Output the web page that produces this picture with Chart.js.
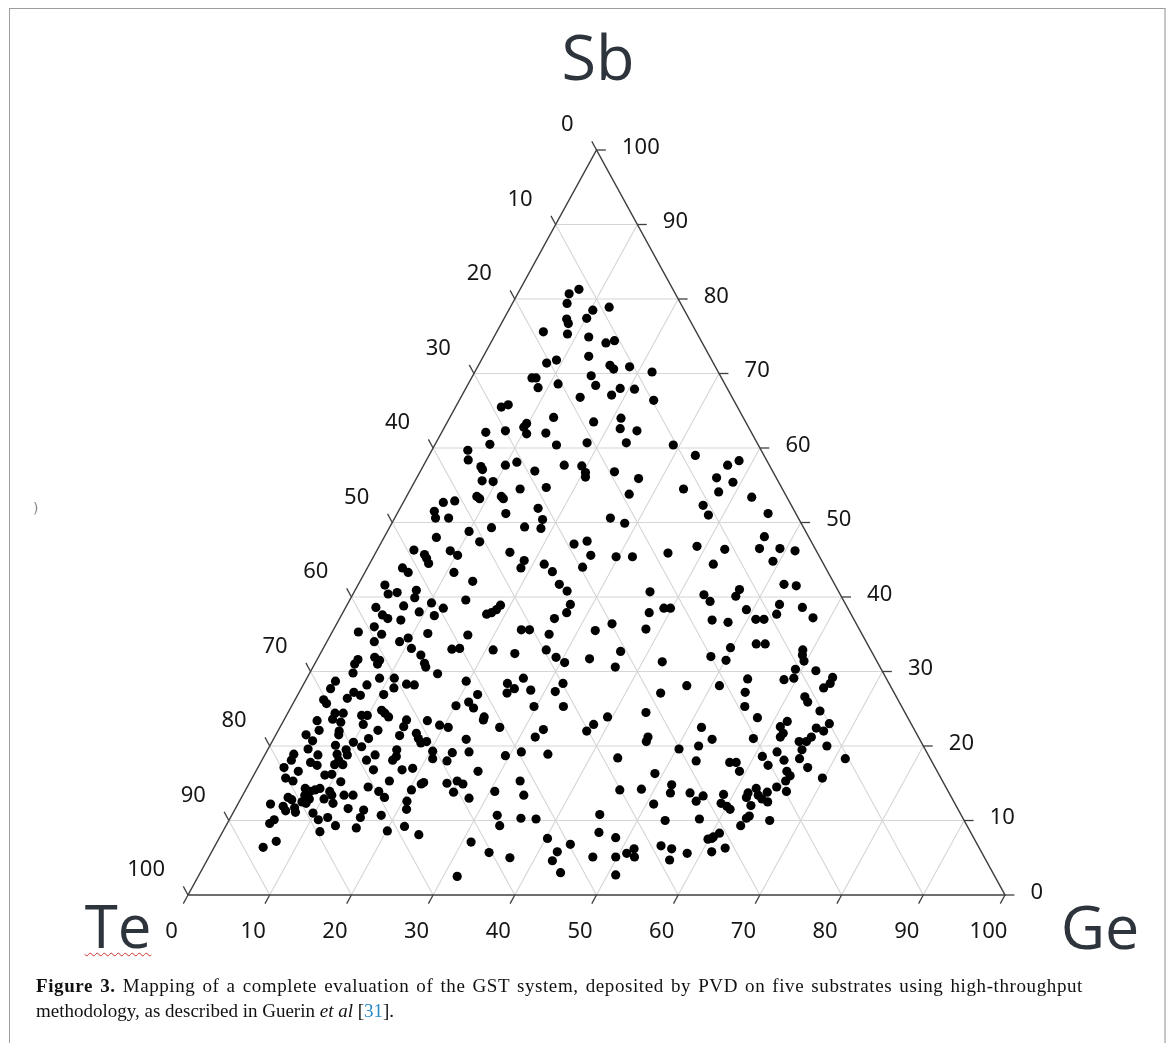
<!DOCTYPE html>
<html>
<head>
<meta charset="utf-8">
<script src="https://cdn.jsdelivr.net/npm/chart.js@4.4.1/dist/chart.umd.min.js"></script>
<style>
html,body{margin:0;padding:0;background:#fff;}
body{width:1171px;height:1043px;position:relative;overflow:hidden;}
#frame{position:absolute;left:9px;top:8px;width:1154px;height:1100px;border-top:1px solid #9c9c9c;border-left:1px solid #9c9c9c;border-right:2px solid #c6c6c6;}
#chart{position:absolute;left:0;top:0;}
.el{position:absolute;font-family:"Open Sans",sans-serif;color:#2e343c;white-space:nowrap;text-align:center;width:200px;}
#caption{position:absolute;left:36px;top:973px;width:1047px;font-family:"Liberation Serif","Times New Roman",serif;font-size:19px;line-height:25px;color:#111;}
#caption .l1{text-align:justify;text-align-last:justify;white-space:normal;letter-spacing:0.6px;}
#caption .l2{white-space:nowrap;}
#caption b{font-weight:bold;}
#caption .ref{color:#2b8ac6;}
#stray{position:absolute;left:33px;top:500px;font-family:"DejaVu Sans",sans-serif;font-size:14px;color:#888;}
</style>
</head>
<body>
<div id="frame"></div>
<canvas id="chart" width="1171" height="1043"></canvas>
<div id="stray">)</div>
<div id="caption"><div class="l1"><b>Figure 3.</b> Mapping of a complete evaluation of the GST system, deposited by PVD on five substrates using high-throughput</div><div class="l2">methodology, as described in Guerin <i>et al</i> [<span class="ref">31</span>].</div></div>
<script>
// ---- data ----
const elementNames = ['Sb', 'Te', 'Ge'];           // top, bottom-left, bottom-right vertices
const tickValues = [0, 10, 20, 30, 40, 50, 60, 70, 80, 90, 100];
const gridLevels = [10, 20, 30, 40, 50, 60, 70, 80, 90];
// compositions: [Ge at.%, Sb at.%]  (Te = 100 - Ge - Sb)
const compositions = [
[7.2,81.3],[6.3,80.7],[6.7,79.4],[10.3,78.5],[12.1,78.9],[10.1,77.4],[7.7,77.3],[8.2,76.7],[5.7,75.6],[8.8,75.3],[11.6,74.9],[14.1,74.1],[15.0,74.4],[12.9,72.3],[8.2,71.4],[9.2,71.8],[16.1,71.1],[16.8,70.6],[18.6,70.9],[21.7,70.2],[7.4,69.4],[7.9,69.4],[14.5,69.7],[8.8,68.1],[11.0,68.6],[15.7,68.4],[18.9,68.0],[20.7,67.9],[18.3,67.1],[14.6,66.8],[23.8,66.4],[5.6,65.5],[6.3,65.8],[12.7,64.1],[17.9,63.5],[21.0,64.0],[9.8,63.3],[9.7,62.8],[5.4,62.1],[7.7,62.3],[10.5,61.9],[12.8,62.0],[21.6,62.6],[23.8,62.3],[6.7,60.5],[14.9,60.4],[18.5,60.7],[23.3,60.7],[29.2,60.4],[4.4,59.7],[5.1,58.4],[32.6,59.0],[11.2,58.1],[10.0,57.7],[7.1,57.5],[7.5,57.1],[17.2,57.7],[19.4,57.6],[14.0,56.9],[20.3,56.7],[23.8,56.8],[37.2,57.7],[38.3,58.3],
[8.2,55.6],[4.9,52.7],[6.2,52.9],[8.6,53.5],[9.1,53.2],[4.4,51.5],[5.0,50.6],[6.6,50.6],[10.0,48.8],[12.0,47.4],[6.4,48.0],[4.5,46.3],[9.0,46.2],[10.2,45.6],[6.1,45.7],[6.6,45.2],[7.2,44.5],[4.3,43.9],[5.3,43.3],[10.9,43.3],[13.8,42.1],[3.3,41.6],[4.3,40.4],[5.3,40.6],[7.5,40.9],[7.8,39.9],[14.2,39.6],[3.7,38.6],[5.0,37.6],[5.9,37.1],[7.0,38.8],[10.2,39.2],[12.0,38.5],[11.4,37.5],[9.3,38.0],[17.7,37.7],[7.6,36.9],[4.8,36.0],[3.2,35.3],[6.2,35.0],[11.8,35.1],[16.8,34.9],[5.8,34.0],[9.7,34.5],[8.9,34.0],[10.8,33.1],[15.8,33.0],[16.7,33.1],[12.4,32.2],[6.9,31.9],[7.7,31.5],[7.7,31.0],[5.0,31.6],[4.9,31.0],[13.4,31.1],[13.8,30.6],[5.3,29.8],[15.7,29.7],
[9.6,55.5],[16.5,54.7],[13.4,54.5],[11.6,53.5],[12.0,53.2],[20.6,56.1],[27.2,55.9],[27.1,53.8],[16.9,51.9],[13.3,51.2],[18.2,50.4],[18.6,49.2],[16.5,49.4],[12.5,49.3],[26.4,50.6],[28.5,49.9],[23.7,47.1],[25.1,47.5],[26.5,45.6],[29.7,45.4],[31.7,45.4],[35.8,45.9],[16.4,46.0],[18.7,44.9],[18.8,43.9],[21.4,44.4],[22.9,43.4],[26.3,44.0],[24.6,41.7],[26.0,40.8],[36.2,40.7],[27.3,39.0],[27.4,37.9],[26.3,37.1],[18.8,38.9],[18.6,38.3],[18.2,37.9],[37.5,37.9],[39.0,38.5],[39.8,38.5],[23.0,35.6],[24.0,35.6],[26.7,35.0],[33.7,36.4],[32.1,35.5],[38.2,35.7],[23.8,32.4],[20.9,32.9],[27.4,32.9],[29.1,31.9],[30.5,31.2],[33.3,31.7],[36.6,32.7],[37.0,30.6],[42.4,31.3],
[33.4,54.5],[36.7,56.0],[39.0,55.4],[37.9,54.1],[42.3,53.4],[36.9,52.3],[38.2,51.0],[45.4,51.2],[38.9,46.8],[42.5,46.4],[46.5,48.1],[46.7,46.5],[49.2,46.5],[51.2,46.2],[49.2,44.8],[42.1,44.4],[52.1,41.7],[53.7,41.5],[43.0,40.3],[44.2,39.4],[47.0,41.0],[47.0,40.1],[52.9,39.0],[53.2,37.7],[55.9,38.6],[57.9,37.2],[49.2,38.3],[51.0,37.0],[52.0,37.0],[45.7,36.9],[47.8,36.6],[52.7,33.7],[53.8,33.7],[49.8,33.2],[48.0,32.0],[50.1,31.5],[58.8,32.9],[59.1,32.2],[59.7,31.4],[59.2,30.3],[61.8,30.1],
[3.7,28.7],[7.8,28.2],[8.9,29.1],[10.7,29.1],[11.3,27.8],[12.6,28.3],[13.6,28.2],[3.6,27.7],[3.5,26.2],[4.1,25.7],[6.3,26.4],[6.7,27.2],[7.7,26.8],[10.5,26.9],[20.1,25.4],[5.8,24.4],[6.8,24.4],[5.9,23.6],[7.1,23.2],[4.1,23.4],[9.2,24.1],[9.9,24.1],[10.0,22.9],[11.3,24.8],[11.9,24.4],[12.6,23.9],[15.0,23.5],[15.1,22.6],[17.6,23.4],[19.4,22.8],[20.6,22.5],[5.0,22.1],[7.5,22.0],[12.2,22.1],[3.7,21.5],[7.7,21.5],[4.9,20.7],[10.0,20.5],[11.6,21.0],[11.3,19.9],[15.2,21.4],[17.1,21.7],[17.7,21.0],[18.3,20.4],[18.9,20.6],[8.0,20.1],[4.9,19.6],[3.5,18.9],[3.6,18.1],[6.5,18.8],[8.8,18.9],[9.6,19.5],[10.1,18.8],[13.5,18.8],[12.8,18.1],[15.8,19.5],[16.2,18.6],[16.0,18.1],[20.3,19.3],[20.8,18.3],[22.8,19.1],[22.7,18.0],[6.1,17.8],[7.1,17.4],[9.2,17.5],[9.4,18.1],[10.2,17.5],[3.2,17.1],[5.2,16.6],[14.3,16.8],[17.8,16.8],[19.0,17.0],[4.1,15.7],[5.2,15.3],[8.7,16.1],[9.5,16.2],[11.1,15.2],[17.0,15.3],[21.1,14.9],[21.3,15.1],[24.2,15.0],[25.3,15.3],[7.2,14.3],[8.0,13.9],[8.5,14.1],[9.0,14.3],[7.6,13.4],[8.4,12.9],[7.7,12.5],[8.3,12.3],[5.7,13.1],[6.3,12.8],[10.4,13.9],[10.9,13.4],[10.2,12.9],[12.4,13.4],[13.5,13.4],[14.8,14.5],[16.4,13.9],[17.5,13.1],[20.3,14.1],[25.6,13.8],[11.6,12.3],[4.0,12.2],[5.7,11.9],[6.3,11.3],[7.2,11.7],[7.6,11.1],[9.8,11.0],[10.9,10.1],[11.9,10.4],[13.8,11.6],[15.8,11.4],[15.9,10.4],[18.3,10.7],[20.5,12.6],[21.0,11.5],[13.4,9.3],[11.9,8.5],[16.1,9.0],[20.1,8.6],[21.9,9.2],[24.2,8.1],[5.2,9.6],[5.5,10.1],[7.2,7.2],[6.0,6.4],[31.7,2.5],
[19.7,28.7],[24.9,28.4],[26.1,27.7],[25.5,27.1],[26.5,29.1],[28.2,27.5],[31.3,27.3],[31.7,28.4],[44.3,27.1],[22.0,26.9],[21.4,25.9],[22.4,25.1],[29.7,25.3],[33.3,25.3],[24.3,23.9],[24.4,23.5],[26.9,22.5],[32.4,22.2],[31.9,21.2],[38.2,22.9],[37.8,22.0],[39.4,23.9],[43.8,24.5],[45.7,21.2],[45.8,20.6],[23.6,20.9],[24.8,19.2],[29.5,18.7],[31.2,19.2],[34.6,18.9],[43.4,18.4],[49.0,16.3],[27.2,16.6],[26.2,14.9],[27.9,13.0],[30.6,13.9],[33.0,15.3],[34.4,13.4],[45.8,14.1],[48.4,14.2],[50.9,12.2],[32.5,10.7],[33.5,9.3],[35.6,10.3],[37.5,10.2],[45.0,10.8],[46.1,8.4],[48.5,7.7],[31.1,7.1],[34.0,5.7],[36.9,5.0],[40.2,7.6],[43.4,6.8],[42.3,5.8],[42.3,4.6],[44.1,3.0],[47.0,5.1],[49.8,5.1],[50.9,5.6],[51.5,6.2],[52.1,5.1],[51.0,2.7],[54.6,6.6],
[47.0,28.1],[51.0,28.1],[54.0,29.0],[54.6,27.2],[55.5,25.3],[58.5,28.9],[59.6,29.1],[64.3,29.2],[63.9,27.8],[64.4,28.4],[62.2,26.6],[62.9,25.9],[65.0,24.7],[57.8,23.8],[51.6,22.5],[53.7,20.9],[58.7,21.0],[61.7,23.3],[61.2,22.6],[67.0,23.0],[65.7,22.4],[66.8,22.0],[62.0,21.7],[61.9,21.2],[65.7,21.2],[65.4,20.6],[64.5,20.6],[68.2,20.0],[50.3,19.6],[52.5,20.0],[53.2,18.0],[62.5,19.2],[65.4,19.5],[65.7,18.3],[61.0,18.6],[63.9,18.1],[62.3,17.4],[71.3,18.3],[57.4,17.8],[58.2,17.8],[59.2,16.6],[67.3,17.1],[65.0,16.6],[65.7,16.0],[65.5,15.3],[69.8,15.7],[64.8,14.5],[66.3,13.9],[51.8,14.8],[52.2,13.7],[54.6,13.7],[56.4,13.3],[55.9,12.6],[58.8,13.5],[61.7,13.7],[62.4,14.3],[63.1,13.4],[64.0,13.8],[63.8,12.9],[64.7,12.5],[61.8,13.1],[59.1,12.3],[60.0,11.9],[60.6,11.5],[62.9,12.0],[53.4,10.0],[57.5,10.2],[63.4,10.6],[63.2,10.3],[66.2,10.0],[63.0,9.3],[60.4,7.8],[60.9,8.3],[60.3,7.6],[59.9,7.5],[56.1,6.2],[56.6,4.7],[58.3,5.6],[61.2,5.8],[62.6,6.3]
];

// ---- ternary -> cartesian (x = Ge + Sb/2, y = Sb) ----
function tern(ge, sb) { return { x: ge + sb / 2, y: sb }; }

const GRID = '#d5d5d5', EDGE = '#3f3f3f', TICK_LEN = 1.15;
const datasets = [];

datasets.push({
  label: 'samples', data: compositions.map(c => tern(c[0], c[1])),
  pointRadius: 4.6, pointHoverRadius: 4.6, backgroundColor: '#000', borderWidth: 0,
  showLine: false, clip: false, order: 0
});

function lineSet(points, color, width, order) {
  return { data: points, showLine: true, borderColor: color, borderWidth: width,
           pointRadius: 0, pointHoverRadius: 0, fill: false, clip: false, order: order, tension: 0 };
}
// triangle frame
datasets.push(lineSet([tern(0,0), tern(100,0), tern(0,100), tern(0,0)], EDGE, 1.5, 1));
// ticks
tickValues.forEach(t => {
  datasets.push(lineSet([tern(t,0), tern(t,-TICK_LEN)], EDGE, 1.3, 1));                          // Ge (bottom)
  datasets.push(lineSet([tern(100-t,t), tern(100-t+TICK_LEN,t)], EDGE, 1.3, 1));                   // Sb (right)
  datasets.push(lineSet([tern(0,100-t), tern(-TICK_LEN,100-t+TICK_LEN)], EDGE, 1.3, 1));          // Te (left)
});
// grid
gridLevels.forEach(g => {
  datasets.push(lineSet([tern(0,g), tern(100-g,g)], GRID, 1.1, 2));       // constant Sb
  datasets.push(lineSet([tern(g,0), tern(g,100-g)], GRID, 1.1, 2));       // constant Ge
  datasets.push(lineSet([tern(100-g,0), tern(0,100-g)], GRID, 1.1, 2));   // constant Te
});

const tickLabelPlugin = {
  id: 'ternaryTicks',
  afterDatasetsDraw(chart) {
    const ctx = chart.ctx, xs = chart.scales.x, ys = chart.scales.y;
    ctx.save();
    ctx.font = '22px "Noto Sans", sans-serif';
    ctx.fillStyle = '#161616';
    ctx.textBaseline = 'alphabetic';
    tickValues.forEach(t => {
      // Ge axis (bottom)
      let p = tern(t, 0);
      ctx.textAlign = 'center';
      ctx.fillText(String(t), xs.getPixelForValue(p.x) - 16.5, ys.getPixelForValue(p.y) + 43);
      // Sb axis (right)
      p = tern(100 - t, t);
      ctx.textAlign = 'left';
      ctx.fillText(String(t), xs.getPixelForValue(p.x) + 25.5, ys.getPixelForValue(p.y) + 3.5);
      // Te axis (left)
      p = tern(0, 100 - t);
      ctx.textAlign = 'right';
      ctx.fillText(String(t), xs.getPixelForValue(p.x) - 23, ys.getPixelForValue(p.y) - 19);
    });
    ctx.restore();
  }
};

new Chart(document.getElementById('chart'), {
  type: 'scatter',
  data: { datasets: datasets },
  options: {
    responsive: false, animation: false, devicePixelRatio: 1,
    layout: { padding: { left: 188, right: 166, top: 150, bottom: 148 } },
    scales: {
      x: { type: 'linear', min: 0, max: 100, display: false },
      y: { type: 'linear', min: 0, max: 100, display: false }
    },
    plugins: { legend: { display: false }, tooltip: { enabled: false } },
    events: []
  },
  plugins: [tickLabelPlugin]
});

// element labels at the vertices
const elPos = { Sb: { left: 498, top: 24, size: 63 }, Te: { left: 18, top: 895, size: 60 }, Ge: { left: 1000, top: 895, size: 61 } };
elementNames.forEach(n => {
  const d = document.createElement('div');
  d.className = 'el';
  d.textContent = n;
  const p = elPos[n];
  d.style.left = p.left + 'px'; d.style.top = p.top + 'px';
  d.style.fontSize = p.size + 'px'; d.style.lineHeight = p.size + 'px';
  if (n === 'Te') { d.style.textDecoration = 'underline wavy #d03030'; d.style.textDecorationThickness = '1px'; d.style.textUnderlineOffset = '4px'; }
  document.body.appendChild(d);
});
</script>
</body>
</html>
